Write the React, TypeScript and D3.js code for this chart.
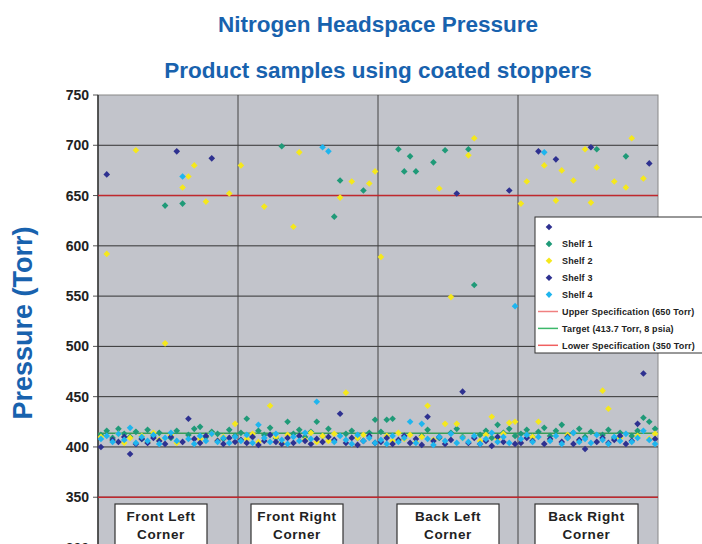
import * as d3 from "d3";

// sample index 0..95, 24 samples per corner
const corners = [
  ["Front Left", "Corner"],
  ["Front Right", "Corner"],
  ["Back Left", "Corner"],
  ["Back Right", "Corner"],
];
const cornerBoxes = [
  [115, 207],
  [251, 343],
  [397, 499],
  [535, 638],
];

const shelf1 = [
  412, 416, 409, 418, 413, 410, 415, 408, 417, 411, 414, 640, 409, 416, 642, 412, 418, 420, 410, 415, 413, 408, 417, 411,
  414, 428, 410, 416, 412, 419, 409, 699, 425, 413, 417, 410, 415, 425, 411, 418, 629, 665, 413, 416, 409, 655, 414, 427,
  415, 427, 428, 696, 674, 689, 674, 411, 417, 683, 409, 695, 414, 418, 410, 696, 561, 412, 416, 409, 422, 414, 418, 411,
  413, 417, 410, 415, 419, 411, 416, 422, 409, 414, 418, 410, 415, 696, 412, 417, 409, 414, 689, 411, 416, 429, 425, 418,
];
const shelf2 = [
  410, 592, 406, 413, 404, 409, 695, 411, 405, 414, 407, 503, 412, 404, 658, 669, 680, 408, 644, 413, 406, 410, 652, 423,
  680, 408, 413, 405, 639, 441, 410, 404, 412, 619, 693, 407, 414, 405, 411, 406, 413, 648, 454, 664, 409, 412, 662, 674,
  589, 411, 406, 414, 408, 412, 405, 410, 441, 407, 657, 423, 549, 423, 409, 690, 707, 406, 412, 430, 408, 413, 424, 425,
  642, 664, 410, 425, 680, 407, 645, 675, 412, 665, 406, 696, 643, 678, 456, 438, 664, 409, 658, 707, 411, 667, 408, 413,
];
const shelf3 = [
  400, 671, 407, 405, 410, 393, 403, 408, 404, 409, 406, 403, 410, 694, 405, 428, 408, 404, 411, 687, 406, 403, 409, 405,
  407, 404, 410, 402, 406, 412, 405, 403, 409, 404, 411, 406, 403, 408, 405, 410, 407, 433, 404, 409, 402, 406, 411, 404,
  405, 409, 403, 407, 411, 404, 408, 402, 430, 406, 410, 403, 407, 652, 455, 404, 409, 403, 406, 401, 410, 405, 655, 403,
  404, 409, 406, 694, 403, 408, 686, 405, 410, 403, 407, 398, 698, 405, 409, 404, 407, 411, 403, 406, 423, 473, 682, 408,
];
const shelf4 = [
  408, 411, 405, 413, 407, 419, 404, 410, 406, 412, 403, 409, 414, 406, 669, 408, 403, 411, 406, 413, 405, 409, 404, 410,
  406, 412, 404, 422, 409, 405, 413, 407, 403, 410, 406, 414, 408, 445, 698, 694, 405, 411, 407, 403, 412, 406, 409, 404,
  407, 403, 411, 405, 409, 425, 404, 423, 408, 402, 410, 406, 413, 404, 409, 405, 411, 403, 408, 414, 405, 410, 404, 540,
  408, 412, 405, 410, 693, 406, 411, 403, 409, 414, 405, 408, 404, 412, 407, 403, 410, 406, 413, 405, 409, 416, 407, 403,
];

const series = [
  { name: "Shelf 1", color: "#1f9a78", values: shelf1 },
  { name: "Shelf 2", color: "#f5e81c", values: shelf2 },
  { name: "Shelf 3", color: "#2e3190", values: shelf3 },
  { name: "Shelf 4", color: "#1fb5ee", values: shelf4 },
];

const upperSpec = 650;
const target = 413.7;
const lowerSpec = 350;
const yTicks = [300, 350, 400, 450, 500, 550, 600, 650, 700, 750];

const W = 702;
const H = 544;
const blue = "#1862ae";
const font = "'Liberation Sans', Arial, sans-serif";

export default function App() {
  const margin = { left: 98, right: 44, top: 95 };
  const x = d3.scaleLinear().domain([0, 96]).range([margin.left, W - margin.right]);
  const y = d3.scaleLinear().domain([300, 750]).range([547.5, margin.top]);
  const diamond = d3.symbol().type(d3.symbolDiamond2).size(28)() as string;

  const legendRows = [
    { label: "", marker: "#2e3190" },
    ...series.map((s) => ({ label: s.name, marker: s.color })),
    { label: "Upper Specification (650 Torr)", line: "#f08080" },
    { label: "Target (413.7 Torr, 8 psia)", line: "#3cb86a" },
    { label: "Lower Specification (350 Torr)", line: "#f06060" },
  ];

  return (
    <svg width={W} height={H} style={{ position: "absolute", left: 0, top: 0, background: "#fff" }} fontFamily={font}>
      <text x={378} y={32} textAnchor="middle" fontSize={22.5} fontWeight="bold" fill={blue}>
        Nitrogen Headspace Pressure
      </text>
      <text x={378} y={78} textAnchor="middle" fontSize={22.5} fontWeight="bold" fill={blue}>
        Product samples using coated stoppers
      </text>
      <text
        transform={`translate(32, 323) rotate(-90)`}
        textAnchor="middle"
        fontSize={27}
        fontWeight="bold"
        fill={blue}
      >
        Pressure (Torr)
      </text>

      <rect x={x(0)} y={y(750)} width={x(96) - x(0)} height={y(300) - y(750)} fill="#c2c4cb" stroke="#888" />

      {yTicks.map((t) => (
        <g key={t}>
          {t < 750 && <line x1={x(0)} x2={x(96)} y1={y(t)} y2={y(t)} stroke="#333" strokeWidth={1} />}
          <line x1={x(0) - 5} x2={x(0)} y1={y(t)} y2={y(t)} stroke="#555" />
          <text x={x(0) - 9} y={y(t) + 5} textAnchor="end" fontSize={14} fontWeight="bold" fill="#222">
            {t}
          </text>
        </g>
      ))}
      {[24, 48, 72].map((i) => (
        <line key={i} x1={x(i)} x2={x(i)} y1={y(750)} y2={H} stroke="#444" />
      ))}
      <line x1={x(0)} x2={x(0)} y1={y(750)} y2={H} stroke="#333" strokeWidth={1.5} />

      <line x1={x(0)} x2={x(96)} y1={y(upperSpec)} y2={y(upperSpec)} stroke="#c0282e" strokeWidth={1.5} />
      <line x1={x(0)} x2={x(96)} y1={y(lowerSpec)} y2={y(lowerSpec)} stroke="#c0282e" strokeWidth={1.5} />
      <line x1={x(0)} x2={x(96)} y1={y(target)} y2={y(target)} stroke="#3a9e58" strokeWidth={1.5} />

      {series.map((s) => (
        <g key={s.name} fill={s.color}>
          {s.values.map((v, i) => (
            <path key={i} d={diamond} transform={`translate(${x(i + 0.5)}, ${y(v)})`} />
          ))}
        </g>
      ))}

      {corners.map((c, i) => {
        const [x0, x1] = cornerBoxes[i];
        const cx = (x0 + x1) / 2;
        return (
          <g key={i}>
            <rect x={x0} y={504} width={x1 - x0} height={50} fill="#fff" stroke="#333" strokeWidth={1.2} />
            <text x={cx} y={521} textAnchor="middle" fontSize={13.5} fontWeight="bold" fill="#222" letterSpacing={0.6}>
              {c[0]}
            </text>
            <text x={cx} y={539} textAnchor="middle" fontSize={13.5} fontWeight="bold" fill="#222" letterSpacing={0.6}>
              {c[1]}
            </text>
          </g>
        );
      })}

      <g transform="translate(535, 217)">
        <rect x={0} y={0} width={180} height={136} fill="#fff" stroke="#333" strokeWidth={1} />
        {legendRows.map((r, i) => (
          <g key={i} transform={`translate(0, ${10 + i * 16.9})`}>
            {"marker" in r && r.marker ? (
              <path d={diamond} transform="translate(14, 0)" fill={r.marker} />
            ) : (
              <line x1={3} x2={23} y1={0} y2={0} stroke={(r as any).line} strokeWidth={1.5} />
            )}
            <text x={27} y={3.5} fontSize={9} fontWeight="bold" fill="#222" letterSpacing={0.15}>
              {r.label}
            </text>
          </g>
        ))}
      </g>
    </svg>
  );
}
